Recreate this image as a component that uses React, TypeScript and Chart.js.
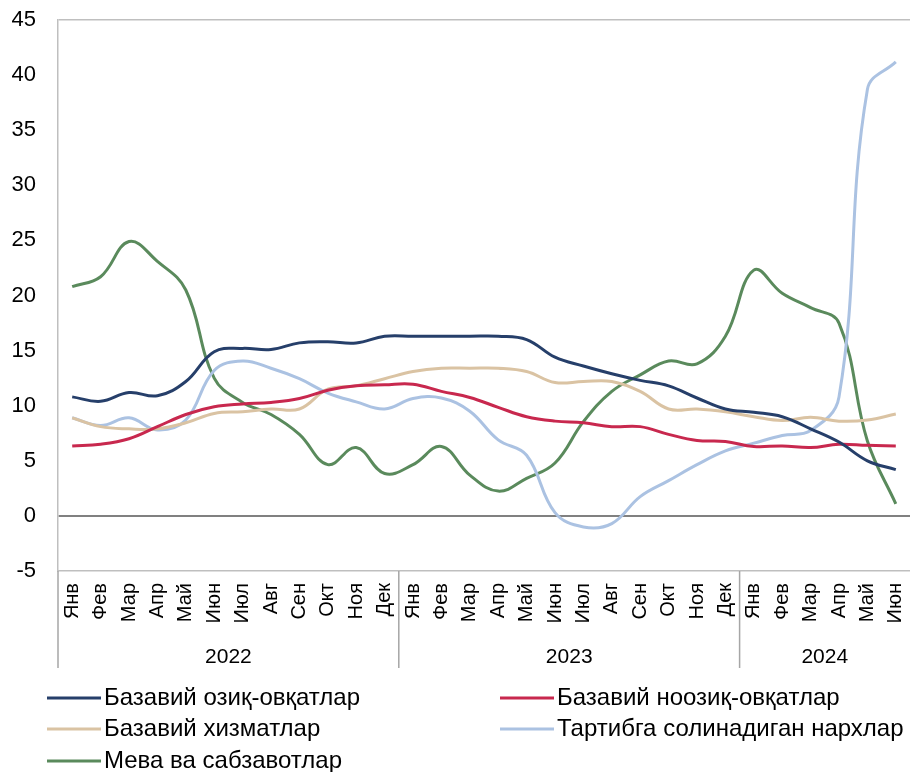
import React, { useEffect, useRef } from "react";
import { Chart, registerables } from "chart.js";

Chart.register(...registerables);

const months = ["Янв", "Фев", "Мар", "Апр", "Май", "Июн", "Июл", "Авг", "Сен", "Окт", "Ноя", "Дек"];
const monthLabels = [...months, ...months, ...months.slice(0, 6)];
const years = ["2022", "2023", "2024"];
const yearSpans = [12, 12, 6];

const foodCore = [10.8, 10.4, 11.2, 10.9, 12.2, 14.9, 15.2, 15.1, 15.7, 15.8, 15.7, 16.3, 16.3, 16.3, 16.3, 16.3, 16.0, 14.4, 13.6, 12.9, 12.3, 11.8, 10.7, 9.7, 9.4, 9.0, 7.9, 6.7, 5.0, 4.2];
const nonFoodCore = [6.35, 6.5, 7.0, 8.1, 9.2, 9.9, 10.15, 10.3, 10.65, 11.4, 11.8, 11.9, 11.95, 11.3, 10.75, 9.85, 9.0, 8.6, 8.45, 8.1, 8.1, 7.4, 6.85, 6.75, 6.3, 6.35, 6.2, 6.5, 6.4, 6.35];
const servicesCore = [8.9, 8.1, 7.9, 7.9, 8.45, 9.3, 9.45, 9.7, 9.7, 11.5, 11.8, 12.45, 13.1, 13.4, 13.4, 13.4, 13.1, 12.1, 12.2, 12.2, 11.3, 9.7, 9.7, 9.45, 9.0, 8.65, 8.95, 8.6, 8.7, 9.25];
const regulated = [8.9, 8.2, 8.9, 7.8, 8.7, 13.2, 14.05, 13.4, 12.45, 11.15, 10.35, 9.7, 10.65, 10.7, 9.5, 6.9, 5.5, 0.3, -1.0, -0.7, 1.75, 3.2, 4.65, 5.9, 6.6, 7.3, 7.75, 10.8, 38.7, 41.2];
const fruitsVeg = [20.8, 21.7, 24.9, 23.1, 20.5, 12.5, 10.3, 9.2, 7.4, 4.65, 6.2, 3.85, 4.65, 6.3, 3.7, 2.25, 3.4, 4.8, 8.55, 11.3, 12.8, 14.05, 13.8, 16.3, 22.3, 20.2, 18.9, 17.5, 6.8, 1.1];

const seriesNames = [
  "Базавий озиқ-овқатлар",
  "Базавий ноозиқ-овқатлар",
  "Базавий хизматлар",
  "Тартибга солинадиган нархлар",
  "Мева ва сабзавотлар",
];
const seriesColors = ["#263f6a", "#c8284e", "#dac3a3", "#abc2e2", "#5a8a5c"];
const seriesData = [foodCore, nonFoodCore, servicesCore, regulated, fruitsVeg];

const FONT = "'Liberation Sans', Arial, sans-serif";

const extrasPlugin = {
  id: "extras",
  afterDraw(chart: any) {
    const ctx = chart.ctx;
    const x = chart.scales.x;
    const area = chart.chartArea;
    const bottom = x.bottom;
    ctx.save();
    ctx.strokeStyle = "#a6a6a6";
    ctx.lineWidth = 1.5;
    ctx.beginPath();
    ctx.moveTo(area.left, area.bottom);
    ctx.lineTo(area.left, bottom);
    let start = 0;
    const half = (x.getPixelForValue(1) - x.getPixelForValue(0)) / 2;
    yearSpans.forEach((span, i) => {
      const end = start + span - 1;
      if (i < yearSpans.length - 1) {
        const sx = x.getPixelForValue(end) + half;
        ctx.moveTo(sx, area.bottom);
        ctx.lineTo(sx, bottom);
      }
      start += span;
    });
    ctx.stroke();
    ctx.fillStyle = "#000";
    ctx.font = `21px ${FONT}`;
    ctx.textAlign = "center";
    ctx.textBaseline = "middle";
    start = 0;
    yearSpans.forEach((span, i) => {
      const cx = (x.getPixelForValue(start) + x.getPixelForValue(start + span - 1)) / 2;
      ctx.fillText(years[i], cx, bottom - 11);
      start += span;
    });
    const cols = [47, 500];
    const rows = [698, 729, 761];
    ctx.font = `24px ${FONT}`;
    ctx.textAlign = "left";
    seriesNames.forEach((name, i) => {
      const cx = cols[i % 2];
      const cy = rows[Math.floor(i / 2)];
      ctx.strokeStyle = seriesColors[i];
      ctx.lineWidth = 3;
      ctx.beginPath();
      ctx.moveTo(cx, cy);
      ctx.lineTo(cx + 54, cy);
      ctx.stroke();
      ctx.fillStyle = "#000";
      ctx.fillText(name, cx + 57, cy);
    });
    ctx.restore();
  },
};

export default function App() {
  const ref = useRef<HTMLCanvasElement | null>(null);
  useEffect(() => {
    document.body.style.margin = "0";
    const canvas = ref.current;
    if (!canvas) return;
    const chart = new Chart(canvas, {
      type: "line",
      data: {
        labels: monthLabels,
        datasets: seriesData.map((d, i) => ({
          label: seriesNames[i],
          data: d,
          borderColor: seriesColors[i],
          backgroundColor: seriesColors[i],
          borderWidth: 3,
          pointRadius: 0,
          tension: 0.4,
          fill: false,
        })),
      },
      options: {
        responsive: false,
        animation: false,
        devicePixelRatio: 1,
        layout: { padding: { top: 20, bottom: 104, left: 0, right: 0 } },
        plugins: { legend: { display: false }, tooltip: { enabled: false } },
        scales: {
          x: {
            type: "category",
            offset: true,
            grid: { display: false, drawTicks: false },
            border: { display: true, color: "#bfbfbf", width: 1.5 },
            ticks: {
              autoSkip: false,
              minRotation: 90,
              maxRotation: 90,
              padding: 12,
              color: "#000",
              font: { family: FONT, size: 20 },
            },
            afterFit(scale: any) {
              scale.height = 97;
              scale.paddingLeft = 0;
              scale.paddingRight = 0;
            },
          },
          y: {
            min: -5,
            max: 45,
            ticks: {
              stepSize: 5,
              padding: 22,
              color: "#000",
              font: { family: FONT, size: 22 },
            },
            grid: {
              drawTicks: false,
              color: (c: any) => (c.tick && c.tick.value === 0 ? "#808080" : c.tick && c.tick.value === 45 ? "#bfbfbf" : "rgba(0,0,0,0)"),
              lineWidth: (c: any) => (c.tick && c.tick.value === 0 ? 2 : 1.5),
            },
            border: { display: true, color: "#bfbfbf", width: 1.5 },
            afterFit(scale: any) {
              scale.width = 58;
              scale.paddingTop = 0;
              scale.paddingBottom = 0;
            },
          },
        },
      },
      plugins: [extrasPlugin],
    });
    return () => chart.destroy();
  }, []);
  return (
    <div style={{ width: 910, height: 772 }}>
      <canvas ref={ref} width={910} height={772} style={{ display: "block" }} />
    </div>
  );
}
